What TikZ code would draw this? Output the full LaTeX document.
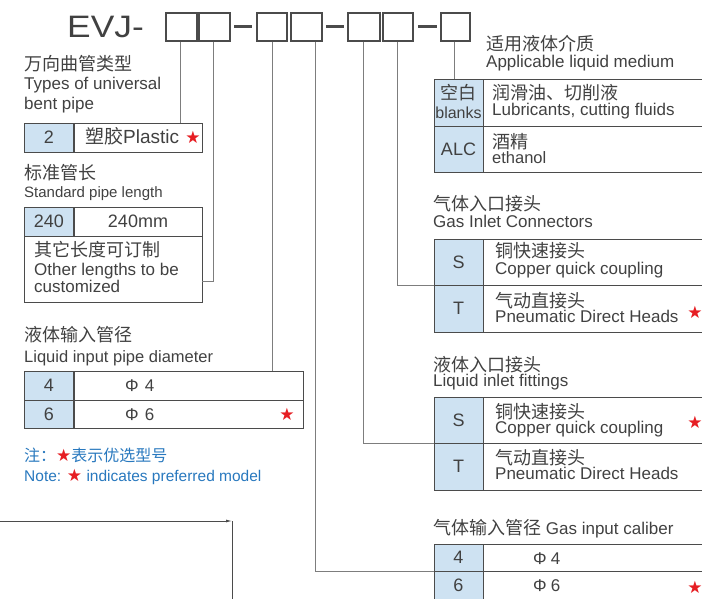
\documentclass[tikz,border=0pt]{standalone}
\usepackage{fontspec}
\usepackage{graphicx}
\setmainfont{Liberation Sans}
\newfontfamily\cjk{Noto Sans CJK SC}
\newfontfamily\symf{DejaVu Sans}
\usetikzlibrary{arrows.meta}
\definecolor{txt}{RGB}{65,65,65}
\definecolor{tline}{RGB}{75,75,75}
\definecolor{cline}{RGB}{125,125,125}
\definecolor{cellblue}{RGB}{206,226,242}
\definecolor{notecol}{RGB}{40,120,190}
\definecolor{starred}{RGB}{230,30,35}
\newcommand{\rstar}{{\symf\fontsize{17}{17}\selectfont\color{starred}\char"2605}}
\begin{document}
\begin{tikzpicture}[x=1pt,y=-1pt,
  digitbox/.style={draw=tline,line width=1.2pt,minimum width=30pt,minimum height=28pt,inner sep=0},
  keycell/.style={draw=tline,line width=0.9pt,fill=cellblue,inner sep=0,text=txt,font=\fontsize{18}{20}\selectfont,minimum width=49pt},
  valcell/.style={draw=tline,line width=0.9pt,inner sep=0,text=txt,font=\fontsize{18}{20}\selectfont},
  conn/.style={draw=cline,line width=0.9pt},
  lbl/.style={inner sep=0,anchor=west,text=txt,font=\fontsize{17}{20}\selectfont,text height=12pt,text depth=3.5pt},
  zh/.style={inner sep=0,anchor=west,text=txt,font=\cjk\fontsize{18}{20}\selectfont,text height=13pt,text depth=1pt},
  ctr/.style={inner sep=0,anchor=center,text=txt},
  starnode/.style={inner sep=0,text=starred,font=\symf\fontsize{17}{17}\selectfont},
  note/.style={inner sep=0,anchor=west,text=notecol}]
\useasboundingbox (0,0) rectangle (702,599);
\clip (0,0) rectangle (702,599);

% ---- code line ----
\node[inner sep=0,anchor=base west,text=txt,font=\fontsize{31}{31}\selectfont] (title) at (67,38) {\scalebox{1.14}[1]{EVJ-}};
\node[digitbox,minimum width=31pt] (b1) at (181.5,27) {};
\node[digitbox,minimum width=31pt] (b2) at (214.5,27) {};
\node[digitbox] (b3) at (272,27) {};
\node[digitbox,minimum width=31pt] (b4) at (306.5,27) {};
\node[digitbox,minimum width=32pt] (b5) at (364,27) {};
\node[digitbox] (b6) at (398,27) {};
\node[digitbox,minimum width=29pt] (b7) at (455.5,27) {};
\draw[tline,line width=2.2pt] (234,26.5) -- (252,26.5);
\draw[tline,line width=2.2pt] (326,26.5) -- (344,26.5);
\draw[tline,line width=2.2pt] (418,26.5) -- (437,26.5);

% ---- left: types of universal bent pipe ----
\node[zh] (t1zh) at (24,65) {万向曲管类型};
\node[lbl] (t1en) at (24,85) {Types of universal};
\node[lbl] (t1en2) at (24,105) {bent pipe};
\node[keycell,minimum height=29pt] (a2) at (49,137.5) {2};
\node[valcell,minimum width=128pt,minimum height=29pt] (aval) at (138,137.5) {};
\node[lbl,font=\fontsize{19}{20}\selectfont] (aplastic) at (85,139.5) {{\cjk 塑胶}Plastic};
\node[starnode] (astar) at (193,137.5) {★};

% ---- standard pipe length ----
\node[zh] (t2zh) at (24,173) {标准管长};
\node[lbl,font=\fontsize{15}{18}\selectfont] (t2en) at (24,193) {Standard pipe length};
\node[keycell,minimum height=29pt] (b240) at (49,221.5) {240};
\node[valcell,minimum width=128pt,minimum height=29pt] (bval) at (138,221.5) {240mm};
\node[valcell,minimum width=178pt,minimum height=66pt] (bother) at (113,269) {};
\node[zh] (bozh) at (34,250) {其它长度可订制};
\node[lbl] (boen) at (34,271) {Other lengths to be};
\node[lbl] (boen2) at (34,288) {customized};

% ---- liquid input pipe diameter ----
\node[zh] (t3zh) at (24,335) {液体输入管径};
\node[lbl,font=\fontsize{16.5}{20}\selectfont] (t3en) at (24,358) {Liquid input pipe diameter};
\node[keycell,minimum height=29pt] (c4) at (49,385.5) {4};
\node[valcell,minimum width=229pt,minimum height=29pt] (c4v) at (188.5,385.5) {};
\node[keycell,minimum height=28pt] (c6) at (49,414) {6};
\node[valcell,minimum width=229pt,minimum height=28pt] (c6v) at (188.5,414) {};
\node[lbl] (c4t) at (125,387.5) {Φ\hspace{6pt}4};
\node[lbl] (c6t) at (125,416) {Φ\hspace{6pt}6};
\node[starnode] (cstar) at (287,414) {★};

% ---- note ----
\node[note,font=\cjk\fontsize{16}{18}\selectfont] (note1) at (24,455) {注：\rstar 表示优选型号};
\node[note,font=\fontsize{15.5}{18}\selectfont] (note2) at (24,477) {Note: \rstar{} indicates preferred model};

% ---- applicable liquid medium ----
\node[zh] (dzh) at (486,45) {适用液体介质};
\node[lbl] (den) at (486,63) {Applicable liquid medium};
\node[keycell,minimum height=47pt] (dk1) at (458.5,102.5) {};
\node[valcell,minimum width=240pt,minimum height=47pt] (dv1) at (603,102.5) {};
\node[keycell,minimum height=46pt] (dk2) at (458.5,149) {ALC};
\node[valcell,minimum width=240pt,minimum height=46pt] (dv2) at (603,149) {};
\node[ctr,font=\cjk\fontsize{18}{20}\selectfont] (dkzh) at (458.5,93) {空白};
\node[ctr,font=\fontsize{16}{18}\selectfont] (dken) at (458.5,113) {blanks};
\node[zh] (d1zh) at (492,94) {润滑油、切削液};
\node[lbl] (d1en) at (492,111) {Lubricants, cutting fluids};
\node[zh] (d2zh) at (492,143) {酒精};
\node[lbl,font=\fontsize{16.5}{20}\selectfont] (d2en) at (492,159) {ethanol};

% ---- gas inlet connectors ----
\node[zh] (ezh) at (433,205) {气体入口接头};
\node[lbl] (een) at (433,223) {Gas Inlet Connectors};
\node[keycell,minimum height=46pt] (ek1) at (458.5,262) {S};
\node[valcell,minimum width=240pt,minimum height=46pt] (ev1) at (603,262) {};
\node[keycell,minimum height=47pt] (ek2) at (458.5,308.5) {T};
\node[valcell,minimum width=240pt,minimum height=47pt] (ev2) at (603,308.5) {};
\node[zh] (e1zh) at (495,252) {铜快速接头};
\node[lbl] (e1en) at (495,270) {Copper quick coupling};
\node[zh] (e2zh) at (495,301) {气动直接头};
\node[lbl] (e2en) at (495,318) {Pneumatic Direct Heads};
\node[starnode] (estar) at (695,312) {★};

% ---- liquid inlet fittings ----
\node[zh] (fzh) at (433,365) {液体入口接头};
\node[lbl] (fen) at (433,382) {Liquid inlet fittings};
\node[keycell,minimum height=46pt] (fk1) at (458.5,420) {S};
\node[valcell,minimum width=240pt,minimum height=46pt] (fv1) at (603,420) {};
\node[keycell,minimum height=47pt] (fk2) at (458.5,466.5) {T};
\node[valcell,minimum width=240pt,minimum height=47pt] (fv2) at (603,466.5) {};
\node[zh] (f1zh) at (495,412) {铜快速接头};
\node[lbl] (f1en) at (495,429) {Copper quick coupling};
\node[zh] (f2zh) at (495,458) {气动直接头};
\node[lbl] (f2en) at (495,475) {Pneumatic Direct Heads};
\node[starnode] (fstar) at (695,422) {★};

% ---- gas input caliber ----
\node[lbl] (gt) at (433,530) {{\cjk\fontsize{18}{20}\selectfont 气体输入管径} Gas input caliber};
\node[keycell,minimum height=27pt] (gk1) at (458.5,557.5) {4};
\node[valcell,minimum width=240pt,minimum height=27pt] (gv1) at (603,557.5) {};
\node[keycell,minimum height=29pt] (gk2) at (458.5,585.5) {6};
\node[valcell,minimum width=240pt,minimum height=29pt] (gv2) at (603,585.5) {};
\node[lbl] (g4t) at (533,560) {Φ\hspace{4pt}4};
\node[lbl] (g6t) at (533,587.5) {Φ\hspace{4pt}6};
\node[starnode] (gstar) at (695,587) {★};

% ---- connectors ----
\coordinate (k1) at (180,123);
\coordinate (k2) at (213,281);
\coordinate (k3) at (272,371);
\coordinate (k4) at (315,571);
\coordinate (k5) at (363,443);
\coordinate (k6) at (397,285);
\coordinate (k7) at (454,79);
\draw[conn] (b1.south -| k1) -- (k1);
\draw[conn] (b2.south -| k2) -- (k2) -- (k2 -| bother.east);
\draw[conn] (b3.south -| k3) -- (k3);
\draw[conn] (b4.south -| k4) -- (k4) -- (k4 -| gk1.west);
\draw[conn] (b5.south -| k5) -- (k5) -- (k5 -| fk1.west);
\draw[conn] (b6.south -| k6) -- (k6) -- (k6 -| ek1.west);
\draw[conn] (b7.south -| k7) -- (k7);

% ---- partial leader at lower left ----
\coordinate (e0) at (0,521);
\coordinate (e1) at (232,521);
\coordinate (e2) at (232,600);
\draw[draw=tline,line width=0.8pt,-{Latex[length=6pt,width=3pt]}] (e0) -- (e1);
\draw[draw=tline,line width=0.8pt] (e1) -- (e2);
\end{tikzpicture}
\end{document}
